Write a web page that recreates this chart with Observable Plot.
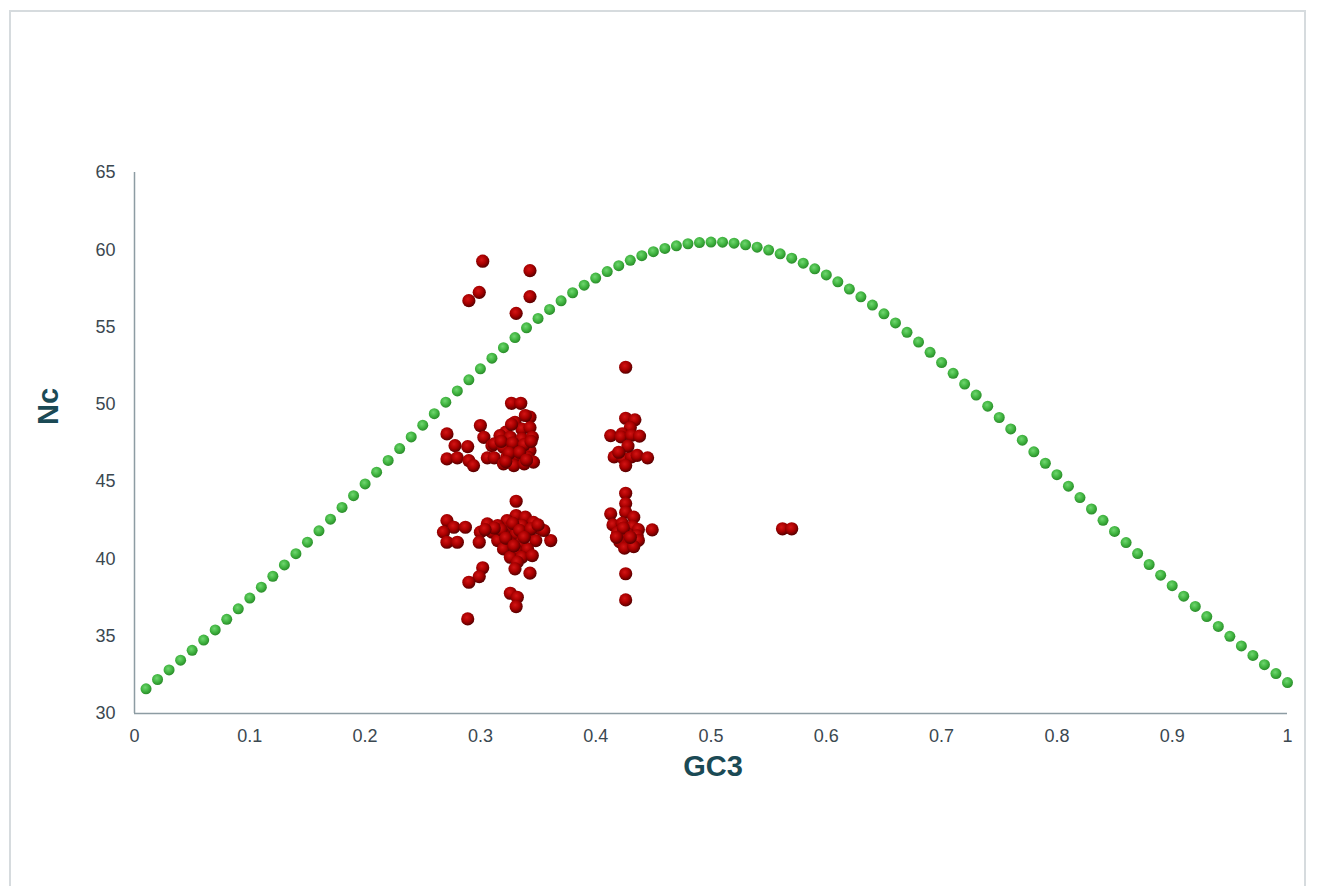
<!DOCTYPE html>
<html>
<head>
<meta charset="utf-8">
<script src="https://cdn.jsdelivr.net/npm/d3@7"></script>
<script src="https://cdn.jsdelivr.net/npm/@observablehq/plot@0.6"></script>
<style>
  html, body { margin: 0; padding: 0; background: #fff; }
  #wrap { position: relative; width: 1317px; height: 886px; overflow: hidden; }
  #frame { position: absolute; left: 9px; top: 10px; width: 1297px; height: 900px;
           border: 2px solid #d6dbde; box-sizing: border-box; }
  #chart { position: absolute; left: 0; top: 0; }
</style>
</head>
<body>
<div id="wrap"><div id="frame"></div><div id="chart"></div></div>
<script>
// Expected Nc curve (green dots), GC3 = 0.01 ... 1.00
const expectedGC3 = d3.range(1, 101).map(i => i / 100);
const expectedNc = [
  31.60, 32.20, 32.82, 33.45, 34.09, 34.75, 35.41, 36.09, 36.77, 37.47,
  38.17, 38.88, 39.61, 40.34, 41.08, 41.82, 42.57, 43.33, 44.09, 44.85,
  45.61, 46.37, 47.14, 47.89, 48.65, 49.40, 50.14, 50.87, 51.59, 52.30,
  52.99, 53.67, 54.32, 54.95, 55.56, 56.14, 56.70, 57.22, 57.71, 58.17,
  58.59, 58.97, 59.32, 59.62, 59.88, 60.09, 60.26, 60.39, 60.47, 60.50,
  60.49, 60.43, 60.32, 60.17, 59.98, 59.74, 59.46, 59.13, 58.77, 58.37,
  57.93, 57.46, 56.96, 56.42, 55.86, 55.27, 54.66, 54.03, 53.37, 52.70,
  52.01, 51.31, 50.60, 49.88, 49.15, 48.41, 47.68, 46.93, 46.19, 45.45,
  44.71, 43.97, 43.23, 42.50, 41.78, 41.06, 40.35, 39.64, 38.95, 38.27,
  37.59, 36.93, 36.27, 35.63, 34.99, 34.37, 33.76, 33.16, 32.58, 32.00
];

// Observed genes (red dots)
const geneGC3 = [
  0.302, 0.343, 0.299, 0.290, 0.343, 0.331,
  0.327, 0.335, 0.343, 0.330, 0.300, 0.271, 0.303, 0.278, 0.289, 0.310,
  0.271, 0.280, 0.290, 0.294, 0.306, 0.312,
  0.322, 0.336, 0.343, 0.317, 0.326, 0.336, 0.345, 0.312, 0.320, 0.332,
  0.343, 0.323, 0.332, 0.341, 0.320, 0.329, 0.338, 0.346, 0.339, 0.327,
  0.318, 0.328, 0.338, 0.325, 0.334, 0.344, 0.322, 0.340,
  0.331, 0.271, 0.277, 0.287, 0.268, 0.271, 0.280, 0.306, 0.300, 0.299,
  0.331, 0.339, 0.323, 0.346, 0.315, 0.326, 0.336, 0.352, 0.310, 0.320,
  0.331, 0.342, 0.361, 0.355, 0.315, 0.325, 0.336, 0.348, 0.320, 0.331,
  0.341, 0.326, 0.336, 0.345, 0.332,
  0.328, 0.318, 0.334, 0.344, 0.322, 0.338, 0.329, 0.312, 0.304, 0.350,
  0.330, 0.343, 0.302, 0.299, 0.290, 0.326, 0.332, 0.331, 0.289,
  0.426, 0.426, 0.434, 0.430, 0.423, 0.413, 0.422, 0.431, 0.438,
  0.416, 0.424, 0.431, 0.436, 0.445, 0.426, 0.428, 0.420,
  0.426, 0.426, 0.426, 0.413, 0.433, 0.449, 0.415, 0.423, 0.432, 0.437,
  0.419, 0.428, 0.436, 0.421, 0.429, 0.437, 0.425, 0.433, 0.426, 0.426,
  0.424, 0.430, 0.418,
  0.562, 0.570
];
const geneNc = [
  59.26, 58.65, 57.25, 56.71, 56.97, 55.89,
  50.07, 50.07, 49.17, 48.84, 48.63, 48.09, 47.87, 47.33, 47.27, 47.33,
  46.47, 46.54, 46.36, 46.04, 46.54, 46.54,
  48.20, 48.40, 48.50, 47.98, 47.87, 47.77, 47.87, 47.44, 47.22, 47.12,
  47.01, 46.58, 46.69, 46.58, 46.15, 46.04, 46.15, 46.26, 49.28, 48.70,
  47.60, 47.50, 47.40, 46.85, 46.90, 47.60, 46.30, 46.40,
  43.73, 42.48, 42.05, 42.05, 41.73, 41.08, 41.08, 42.27, 41.73, 41.08,
  42.81, 42.70, 42.48, 42.37, 42.16, 42.05, 42.16, 41.95, 41.73, 41.62,
  41.62, 41.62, 41.19, 41.84, 41.19, 41.08, 41.08, 41.19, 40.65, 40.54,
  40.65, 40.11, 40.11, 40.22, 39.79,
  42.30, 41.90, 41.85, 41.95, 41.35, 41.40, 40.85, 42.00, 41.90, 42.20,
  39.36, 39.08, 39.43, 38.86, 38.49, 37.78, 37.52, 36.92, 36.12,
  52.40, 49.10, 49.00, 48.50, 48.10, 47.98, 47.90, 48.00, 47.95,
  46.60, 46.50, 46.60, 46.70, 46.54, 46.04, 47.30, 46.90,
  44.25, 43.58, 43.02, 42.92, 42.70, 41.88, 42.20, 42.30, 42.10, 41.90,
  41.70, 41.60, 41.50, 41.10, 41.00, 41.20, 40.70, 40.80, 39.04, 37.35,
  42.00, 41.40, 41.40,
  41.95, 41.95
];

const xTicks = [0, 0.1, 0.2, 0.3, 0.4, 0.5, 0.6, 0.7, 0.8, 0.9, 1];
const xTickLabels = ["0", "0.1", "0.2", "0.3", "0.4", "0.5", "0.6", "0.7", "0.8", "0.9", "1"];
const yTicks = [30, 35, 40, 45, 50, 55, 60, 65];

const expected = expectedGC3.map((g, i) => ({gc3: g, nc: expectedNc[i]}));
const genes = geneGC3.map((g, i) => ({gc3: g, nc: geneNc[i]}));

const font = "'Liberation Sans', Arial, sans-serif";
const tickColor = "#3b4850";
const titleColor = "#1b4a55";
const axisColor = "#8d9ca3";

const chart = Plot.plot({
  width: 1317,
  height: 886,
  marginLeft: 134,
  marginRight: 30,
  marginTop: 172,
  marginBottom: 173,
  style: {fontFamily: font, background: "transparent", overflow: "visible"},
  x: {domain: [0, 1]},
  y: {domain: [30, 65]},
  marks: [
    Plot.axisX({ticks: xTicks, tickFormat: (d, i) => xTickLabels[i], tickSize: 0, tickPadding: 16,
                fontSize: 18, color: tickColor, label: null}),
    Plot.axisY({ticks: yTicks, tickSize: 0, tickPadding: 19, fontSize: 18, color: tickColor, label: null}),
    Plot.ruleX([0], {stroke: axisColor, strokeWidth: 1.5}),
    Plot.ruleY([30], {stroke: axisColor, strokeWidth: 1.5}),
    Plot.dot(expected, {x: "gc3", y: "nc", r: 5.5, fill: "url(#greenGrad)", stroke: "none"}),
    Plot.dot(genes, {x: "gc3", y: "nc", r: 6.6, fill: "url(#redGrad)", stroke: "none"}),
    Plot.text(["Nc"], {frameAnchor: "left", dx: -86, dy: -18, rotate: -90, text: d => d,
                       fontSize: 29, fontWeight: "bold", fill: titleColor}),
    Plot.text(["GC3"], {frameAnchor: "bottom", dx: 2, dy: 62, text: d => d,
                        fontSize: 29, fontWeight: "bold", fill: titleColor})
  ]
});

const defs = document.createElementNS("http://www.w3.org/2000/svg", "defs");
defs.innerHTML = `
  <radialGradient id="redGrad" cx="42%" cy="38%" r="62%">
    <stop offset="0%" stop-color="#d41414"/>
    <stop offset="55%" stop-color="#a80000"/>
    <stop offset="100%" stop-color="#560000"/>
  </radialGradient>
  <radialGradient id="greenGrad" cx="42%" cy="38%" r="62%">
    <stop offset="0%" stop-color="#70d670"/>
    <stop offset="55%" stop-color="#42b642"/>
    <stop offset="100%" stop-color="#2a8c2a"/>
  </radialGradient>`;
chart.insertBefore(defs, chart.firstChild);
document.getElementById("chart").appendChild(chart);
</script>
</body>
</html>
